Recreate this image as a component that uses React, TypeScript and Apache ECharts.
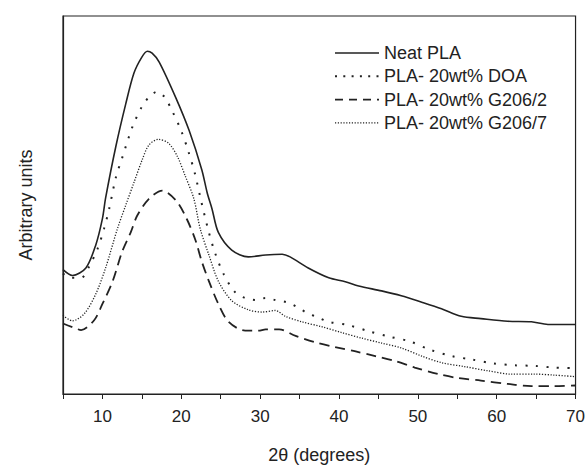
import React, { useEffect, useRef } from "react";
import * as echarts from "echarts";

const seriesNames = ["Neat PLA", "PLA- 20wt% DOA", "PLA- 20wt% G206/2", "PLA- 20wt% G206/7"];

const neatPLA: [number, number][] = [
  [5, 127], [6.2, 121], [7.9, 128.7], [9.15, 152], [10.0, 179], [10.4, 200], [11.7, 252.7],
  [12.95, 296], [14.0, 327.7], [15.0, 344], [15.7, 350], [16.3, 348], [17.2, 339], [19.3, 302.7],
  [21.0, 269], [22.6, 229], [23.3, 205], [23.9, 189], [24.7, 165], [26.4, 147], [28.5, 140],
  [30.7, 142], [32.8, 142.7], [33.8, 140], [36.1, 128.7], [38.7, 118.7], [40.8, 114.7],
  [42.5, 110.3], [45.4, 105.3], [47.9, 100.3], [50.5, 93.7], [53.0, 87], [55.5, 79.3],
  [58.0, 77], [61.4, 74.3], [64.4, 73.7], [66.5, 71], [70, 71],
];

const doa: [number, number][] = [
  [5, 123], [5.8, 119], [7.3, 118.7], [8.3, 130], [9.4, 148.7], [10.2, 168.7], [10.85, 189],
  [11.7, 221], [12.5, 241], [13.8, 272.7], [15.0, 293.3], [16.0, 304], [16.95, 308.7],
  [17.9, 303], [18.85, 289], [20.0, 268.7], [20.9, 247.7], [21.7, 226], [22.55, 196],
  [23.5, 165], [24.3, 143.7], [25.4, 122], [26.85, 103.7], [28.1, 98], [29.5, 96], [30.7, 98],
  [31.9, 96], [33.4, 93.7], [34.7, 88.7], [35.9, 83], [37.4, 78], [38.7, 73.7], [41.2, 70.3],
  [43.7, 64.3], [46.3, 58.7], [49.0, 53.7], [51.5, 45.3], [54.3, 38.7], [56.8, 35.3],
  [59.5, 31.3], [62.3, 29.3], [64.8, 28.7], [67.3, 27], [70, 26.3],
];

const g2062: [number, number][] = [
  [5, 72], [6.6, 67], [7.3, 65.3], [8.95, 75.3], [10.0, 92], [11.3, 115.3], [12.5, 145.3],
  [13.6, 165.3], [14.4, 182], [15.9, 199.3], [17.6, 207.7], [19.4, 197], [20.7, 178.7],
  [21.8, 157], [22.6, 135.3], [23.5, 115.3], [24.7, 92], [26.0, 73.7], [28.1, 64.7],
  [29.8, 64.7], [30.7, 66], [32.4, 66], [34.5, 59.3], [37.0, 52.7], [39.5, 48], [42.0, 43.7],
  [44.6, 38.7], [47.1, 33.7], [49.6, 27], [52.6, 20.3], [55.1, 16.3], [58.0, 13.7],
  [61.4, 10.3], [64.4, 8], [67.3, 8], [70, 8.7],
];

const g2067: [number, number][] = [
  [5, 80.3], [6.2, 74.7], [7.7, 82], [9.15, 102], [10.4, 128.7], [11.9, 168.7], [12.95, 192.7],
  [14.0, 216], [15.05, 239.3], [15.9, 254.3], [17.1, 260], [18.4, 256], [19.5, 242.7],
  [20.5, 222.7], [21.6, 199.3], [22.4, 168.7], [23.5, 142], [24.7, 115.3], [26.4, 95.3],
  [28.5, 86], [30.3, 83.7], [31.9, 85.3], [33.2, 79.3], [35.3, 73.7], [37.8, 68.7],
  [40.35, 62.7], [42.9, 57], [45.4, 52], [47.9, 47], [50.5, 38.7], [53.0, 32], [55.9, 28],
  [58.9, 23.7], [61.8, 20.3], [64.8, 20.3], [67.3, 19.3], [70, 17.7],
];

const FONT = "Liberation Sans, Arial, Helvetica, sans-serif";
const INK = "#222";

const lineStyles: any[] = [
  { width: 1.6, type: "solid" },
  { width: 2, type: [2, 8.5] },
  { width: 1.8, type: [10, 6] },
  { width: 1.3, type: [1.2, 1.6] },
];
const legendDashes: any[] = [null, [2, 6.3], [8, 6], [1.2, 1.6]];

export default function App() {
  const ref = useRef<HTMLDivElement>(null);
  useEffect(() => {
    document.body.style.margin = "0";
    if (!ref.current) return;
    const chart = echarts.init(ref.current, undefined, { renderer: "svg" });
    const datasets = [neatPLA, doa, g2062, g2067];
    const legendGraphics: any[] = [];
    seriesNames.forEach((name, i) => {
      const cy = 53 + i * 23.3;
      legendGraphics.push({
        type: "line",
        shape: { x1: 335, y1: cy, x2: 379, y2: cy },
        style: {
          stroke: INK,
          lineWidth: lineStyles[i].width,
          lineDash: legendDashes[i] || undefined,
        },
        silent: true,
      });
      legendGraphics.push({
        type: "text",
        x: 384,
        y: cy,
        style: {
          text: name,
          fill: INK,
          font: `18px ${FONT}`,
          textVerticalAlign: "middle",
          verticalAlign: "middle",
        },
        silent: true,
      });
    });
    chart.setOption({
      animation: false,
      backgroundColor: "#fff",
      textStyle: { fontFamily: FONT },
      grid: {
        left: 63, right: 10, top: 16, bottom: 67,
        show: true, borderColor: INK, borderWidth: 1.2, backgroundColor: "transparent",
      },
      graphic: legendGraphics,
      xAxis: {
        type: "value",
        min: 5,
        max: 70,
        interval: 5,
        name: "2θ (degrees)",
        nameLocation: "middle",
        nameGap: 52,
        nameTextStyle: { fontSize: 18, color: INK, fontFamily: FONT },
        axisLine: { show: true, lineStyle: { color: INK, width: 1.2 } },
        axisTick: { show: true, inside: false, length: 5, lineStyle: { color: INK } },
        axisLabel: {
          show: true, margin: 14, fontSize: 17, color: INK, fontFamily: FONT,
          formatter: (v: number) => (v % 10 === 0 ? String(v) : ""),
        },
        splitLine: { show: false },
      },
      yAxis: {
        type: "value",
        min: 0,
        max: 386,
        name: "Arbitrary units",
        nameLocation: "middle",
        nameGap: 28,
        nameTextStyle: { fontSize: 18, color: INK, fontFamily: FONT },
        axisLine: { show: true, lineStyle: { color: INK, width: 1.2 } },
        axisTick: { show: false },
        axisLabel: { show: false },
        splitLine: { show: false },
      },
      series: seriesNames.map((name, i) => ({
        name,
        type: "line",
        data: datasets[i],
        smooth: 0.3,
        symbol: "none",
        showSymbol: false,
        lineStyle: { color: INK, ...lineStyles[i] },
        itemStyle: { color: INK },
      })),
    });
    return () => chart.dispose();
  }, []);
  return <div ref={ref} style={{ width: 588, height: 469 }} />;
}
